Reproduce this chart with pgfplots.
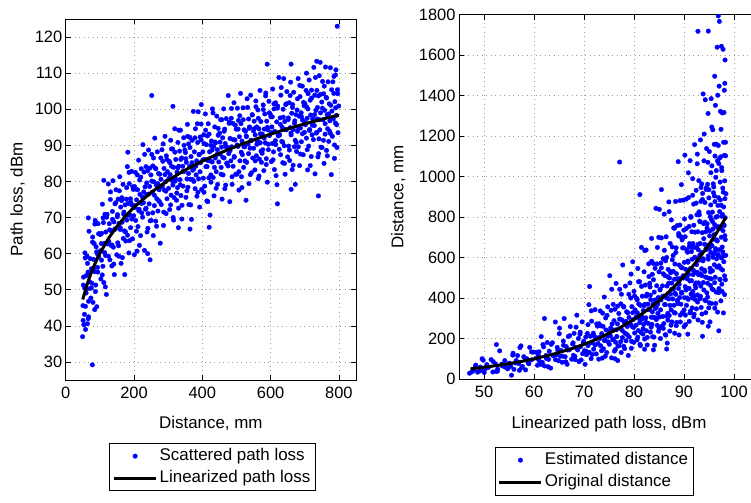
\documentclass[border=0pt]{standalone}
\usepackage{fontspec}
\setmainfont{Liberation Sans}
\usepackage{pgfplots}
\pgfplotsset{compat=1.18}
\pgfplotsset{
  mystyle/.style={
    clip marker paths=true,
    scale only axis,
    axis line style={black, line width=0.8bp},
    tick style={black, line width=0.6bp},
    tick align=inside,
    major tick length=5bp,
    grid=major,
    grid style={gray!75, line width=0.6bp, dash pattern=on 0.9bp off 3.6bp},
    tick label style={font=\fontsize{16.5}{19}\selectfont},
    label style={font=\fontsize{17}{20}\selectfont},
    xticklabel style={yshift=-4bp},
    /pgf/number format/assume math mode=true,
    /pgf/number format/1000 sep={},
    legend cell align=left,
    legend style={draw=black, line width=0.8bp, font=\fontsize{17}{20}\selectfont,
      inner xsep=3bp, inner ysep=3bp, row sep=2.5bp,
      nodes={text height=12bp, text depth=3.5bp, inner sep=2bp}},
  },
  scat/.style={only marks, mark=*, mark size=2.3bp, color=blue, mark options={draw=blue, fill=blue, line width=0.3bp},
    legend image code/.code={\draw[mark repeat=2,mark phase=2,##1] plot coordinates {(0bp,0bp) (21bp,0bp) (42bp,0bp)};}},
  fitline/.style={black, line width=3bp, no marks,
    legend image code/.code={\draw[##1] (0bp,0bp) -- (42bp,0bp);}},
}
\begin{document}
\begin{tikzpicture}
\useasboundingbox (0,0) rectangle (751bp,503bp);
\begin{axis}[mystyle, at={(65.7bp,123bp)}, anchor=south west,
  width=290.3bp, height=361bp,
  xmin=0, xmax=850, ymin=25, ymax=125,
  xtick={0,200,400,600,800}, ytick={30,40,50,60,70,80,90,100,110,120},
  xlabel={Distance, mm}, ylabel={Path loss, dBm},
  xlabel style={at={(axis description cs:0.5,-0.133)}, anchor=base},
  ylabel style={at={(axis description cs:-0.166,0.5)}, anchor=center},
  legend style={at={(0.5057,-0.1745)}, anchor=north}]
\addplot[scat] coordinates {
(50.6,45.6)(52.1,53.5)(53.3,40.3)(55.2,50.5)(56.4,60.2)(57.9,45.4)(59.6,53.9)(60.8,50.1)(62.5,59.3)(63.7,40.6)(65.4,54.9)(66.9,46.8)(68.3,66.2)(70.1,52.2)(71.8,58.6)(73.7,47.7)
(75.3,55.8)(76.8,51.8)(78.9,64.6)(79.8,46.5)(81.9,58.4)(83.2,62.8)(84.3,55.0)(86.4,69.2)(87.9,51.3)(89.1,61.9)(90.8,45.3)(92.2,60.0)(93.9,54.9)(94.7,68.3)(96.5,59.2)(98.1,65.5)
(101.5,65.3)(103.0,53.0)(104.2,62.8)(105.0,58.2)(107.6,73.7)(108.9,56.5)(110.5,68.6)(111.6,52.0)(113.5,62.8)(114.9,70.9)(116.6,59.5)(117.4,66.0)(119.1,48.7)(121.2,70.9)(122.6,62.7)(124.8,79.3)
(126.2,63.4)(127.7,68.3)(129.5,58.3)(130.8,75.0)(132.3,62.3)(133.6,66.3)(135.1,56.6)(136.9,71.7)(138.2,80.2)(139.6,61.8)(141.2,68.8)(142.5,54.2)(144.4,73.8)(145.8,66.9)(147.3,77.7)(149.4,59.7)
(150.9,70.2)(152.4,63.0)(153.6,75.1)(155.5,59.3)(156.1,68.4)(158.4,81.3)(159.9,66.7)(161.1,72.9)(162.2,57.3)(164.4,75.5)(165.1,68.7)(167.8,79.2)(168.6,64.2)(170.5,71.5)(172.9,54.2)(174.1,73.5)
(175.9,63.5)(177.4,75.1)(178.6,69.3)(180.5,84.1)(181.1,65.1)(183.4,73.9)(184.9,60.2)(186.1,79.4)(187.2,70.8)(189.4,75.2)(190.1,67.2)(192.8,82.8)(193.6,73.5)(195.5,64.1)(197.9,77.8)(199.1,70.5)
(201.5,78.6)(203.0,72.8)(204.2,82.5)(205.0,69.2)(207.6,74.9)(208.9,60.7)(210.5,77.7)(211.6,67.5)(213.5,85.9)(214.9,72.3)(216.6,80.4)(217.4,76.4)(219.1,65.0)(221.2,83.5)(222.6,71.3)(224.8,75.7)
(226.2,90.2)(227.7,74.1)(229.5,82.6)(230.8,60.9)(232.3,78.5)(233.6,72.3)(235.1,84.1)(236.9,76.4)(238.2,66.0)(239.6,82.9)(241.2,71.1)(242.5,88.7)(244.4,73.8)(245.8,78.6)(247.3,69.1)(249.4,81.8)
(250.6,69.2)(252.1,87.5)(253.3,77.0)(255.2,84.3)(256.4,65.0)(257.9,79.9)(259.6,73.3)(260.8,92.0)(262.5,83.7)(263.7,69.0)(265.4,79.0)(266.9,75.2)(268.3,88.2)(270.1,71.8)(271.8,82.2)(273.7,77.7)
(275.3,82.0)(276.8,62.9)(278.9,80.6)(279.8,73.6)(281.9,88.8)(283.2,78.7)(284.3,85.6)(286.4,67.8)(287.9,83.6)(289.1,77.6)(290.8,92.5)(292.2,79.9)(293.9,71.1)(294.7,87.1)(296.5,75.2)(298.1,82.7)
(301.2,78.1)(302.7,85.6)(304.5,72.2)(305.8,81.9)(307.3,91.4)(308.6,76.2)(310.1,84.2)(311.9,80.2)(313.2,89.0)(314.6,70.0)(316.2,83.9)(317.5,75.5)(319.4,94.6)(320.8,80.1)(322.3,86.1)(324.4,74.8)
(325.9,82.6)(327.4,78.3)(328.6,90.8)(330.5,72.6)(331.1,84.2)(333.4,88.4)(334.9,80.5)(336.1,94.2)(337.2,76.1)(339.4,86.5)(340.1,69.6)(342.8,84.2)(343.6,78.7)(345.5,92.1)(347.9,82.8)(349.1,88.7)
(350.6,88.0)(352.1,75.6)(353.3,85.3)(355.2,80.7)(356.4,95.8)(357.9,78.4)(359.6,90.4)(360.8,73.6)(362.5,84.2)(363.7,92.2)(365.4,80.6)(366.9,86.9)(368.3,69.5)(370.1,91.4)(371.8,83.1)(373.7,99.4)
(375.3,83.5)(376.8,88.2)(378.9,78.0)(379.8,94.6)(381.9,81.8)(383.2,85.7)(384.3,75.9)(386.4,90.8)(387.9,99.3)(389.1,80.7)(390.8,87.5)(392.2,72.9)(393.9,92.3)(394.7,85.2)(396.5,95.9)(398.1,77.8)
(401.5,88.2)(403.0,80.9)(404.2,92.9)(405.0,77.0)(407.6,86.1)(408.9,98.7)(410.5,84.1)(411.6,90.2)(413.5,74.6)(414.9,92.6)(416.6,85.8)(417.4,96.0)(419.1,81.0)(421.2,88.2)(422.6,70.7)(424.8,90.0)
(425.3,79.8)(426.8,91.2)(428.9,85.4)(429.8,100.1)(431.9,81.1)(433.2,89.7)(434.3,76.0)(436.4,95.1)(437.9,86.5)(439.1,90.7)(440.8,82.7)(442.2,98.1)(443.9,88.8)(444.7,79.2)(446.5,92.8)(448.1,85.4)
(450.6,93.4)(452.1,87.6)(453.3,97.1)(455.2,83.9)(456.4,89.5)(457.9,75.1)(459.6,92.1)(460.8,81.8)(462.5,100.1)(463.7,86.5)(465.4,94.5)(466.9,90.5)(468.3,79.0)(470.1,97.4)(471.8,85.1)(473.7,89.5)
(475.9,103.8)(477.4,87.7)(478.6,96.1)(480.5,74.4)(481.1,91.9)(483.4,85.7)(484.9,97.5)(486.1,89.6)(487.2,79.2)(489.4,96.1)(490.1,84.2)(492.8,101.8)(493.6,86.7)(495.5,91.5)(497.9,82.0)(499.1,94.5)
(501.2,82.0)(502.7,100.3)(504.5,89.7)(505.8,96.9)(507.3,77.6)(508.6,92.4)(510.1,85.7)(511.9,104.4)(513.2,96.0)(514.6,81.3)(516.2,91.2)(517.5,87.4)(519.4,100.4)(520.8,83.9)(522.3,94.3)(524.4,89.6)
(526.5,93.9)(528.0,74.8)(529.2,92.4)(530.0,85.3)(532.6,100.5)(533.9,90.4)(535.5,97.3)(536.6,79.4)(538.5,95.1)(539.9,89.2)(541.6,103.9)(542.4,91.4)(544.1,82.4)(546.2,98.5)(547.6,86.5)(549.8,94.0)
(550.3,89.2)(551.8,96.7)(553.9,83.2)(554.8,92.9)(556.9,102.3)(558.2,87.1)(559.3,95.1)(561.4,91.1)(562.9,99.8)(564.1,80.8)(565.8,94.6)(567.2,86.2)(568.9,105.2)(569.7,90.7)(571.5,96.6)(573.1,85.3)
(575.6,93.1)(577.1,88.8)(578.3,101.2)(580.2,83.0)(581.4,94.5)(582.9,98.7)(584.6,90.7)(585.8,104.5)(587.5,86.3)(588.7,96.7)(590.4,79.8)(591.9,94.3)(593.3,88.8)(595.1,102.2)(596.8,92.7)(598.7,98.7)
(600.9,97.9)(602.4,85.5)(603.6,95.1)(605.5,90.5)(606.1,105.6)(608.4,88.2)(609.9,100.1)(611.1,83.3)(612.2,93.9)(614.4,101.8)(615.1,90.2)(617.8,96.5)(618.6,79.1)(620.5,100.9)(622.9,92.6)(624.1,108.8)
(626.5,92.9)(628.0,97.6)(629.2,87.4)(630.0,103.9)(632.6,91.1)(633.9,95.0)(635.5,85.2)(636.6,100.0)(638.5,108.5)(639.9,89.9)(641.6,96.6)(642.4,82.0)(644.1,101.3)(646.2,94.3)(647.6,104.9)(649.8,86.8)
(651.2,97.1)(652.7,89.8)(654.5,101.8)(655.8,85.8)(657.3,94.9)(658.6,107.5)(660.1,92.9)(661.9,98.9)(663.2,83.3)(664.6,101.3)(666.2,94.4)(667.5,104.7)(669.4,89.6)(670.8,96.8)(672.3,79.2)(674.4,98.5)
(675.9,88.3)(677.4,99.8)(678.6,93.9)(680.5,108.5)(681.1,89.6)(683.4,98.1)(684.9,84.4)(686.1,103.5)(687.2,94.8)(689.4,99.0)(690.1,91.0)(692.8,106.4)(693.6,97.0)(695.5,87.4)(697.9,101.0)(699.1,93.6)
(700.3,101.6)(701.8,95.7)(703.9,105.2)(704.8,92.0)(706.9,97.5)(708.2,83.2)(709.3,100.1)(711.4,89.8)(712.9,108.1)(714.1,94.4)(715.8,102.5)(717.2,98.4)(718.9,86.9)(719.7,105.3)(721.5,92.9)(723.1,97.3)
(726.5,111.6)(728.0,95.5)(729.2,103.9)(730.0,82.1)(732.6,99.7)(733.9,93.4)(735.5,105.2)(736.6,97.3)(738.5,86.8)(739.9,103.7)(741.6,91.8)(742.4,109.3)(744.1,94.3)(746.2,99.0)(747.6,89.5)(749.8,102.0)
(750.6,89.4)(752.1,107.7)(753.3,97.1)(755.2,104.3)(756.4,85.0)(757.9,99.7)(759.6,93.1)(760.8,111.7)(762.5,103.3)(763.7,88.6)(765.4,98.5)(766.9,94.6)(768.3,107.6)(770.1,91.1)(771.8,101.5)(773.7,96.8)
(776.2,101.1)(777.7,81.9)(779.5,99.5)(780.8,92.5)(782.3,107.6)(783.6,97.4)(785.1,104.4)(786.9,86.4)(788.2,102.1)(789.6,96.2)(791.2,110.9)(792.5,98.3)(794.4,89.4)(795.8,105.4)(797.3,93.5)(799.4,100.9)
(78,29.2)(49.5,37.0)(51,41.5)(58,39.0)(67,42.5)(85,44.5)(252,103.8)(590,112.5)(660,112.5)(735,113.3)(745,113.0)(795,123.0)(775,111.5)(705,110.0)(790,109.5)
(620,73.8)(740,76.0)(660,77.8)(330,67.2)(247,58.3)(240,60.0)(201,59.7)(420,67.3)(364,66.8)(314,100.8)(397,101.3)(111.5,80.3)(66.2,69.9)(182,88.1)
(51.8,51.3)(54.9,43.2)(57.1,58.8)(59.7,49.1)(63.9,57.3)(66.0,42.0)(69.8,54.6)(72.0,50.4)
(75.2,50.5)(78.6,63.2)(81.2,55.8)(85.4,68.2)(87.1,49.5)(90.6,60.5)(93.2,56.2)(96.4,65.5)
(101.8,60.8)(104.9,65.6)(107.1,54.1)(109.7,69.9)(113.9,60.3)(116.0,50.8)(119.8,70.1)(122.0,62.9)
(125.2,59.3)(128.6,66.6)(131.2,77.1)(135.4,62.4)(137.1,69.5)(140.6,57.1)(143.2,66.7)(146.4,74.1)
(151.8,70.8)(154.9,62.2)(157.1,77.4)(159.7,67.2)(163.9,74.7)(166.0,58.9)(169.8,70.9)(172.0,66.3)
(175.2,66.0)(178.6,78.3)(181.2,70.6)(185.4,82.5)(187.1,63.6)(190.6,74.2)(193.2,69.6)(196.4,78.5)
(201.8,73.3)(204.9,77.9)(207.1,66.2)(209.7,81.8)(213.9,71.9)(216.0,62.3)(219.8,81.2)(222.0,73.9)
(225.2,70.1)(228.6,77.1)(231.2,87.5)(235.4,72.6)(237.1,79.6)(240.6,67.0)(243.2,76.5)(246.4,83.7)
(251.8,80.1)(254.9,71.3)(257.1,86.5)(259.7,76.2)(263.9,83.5)(266.0,67.6)(269.8,79.4)(272.0,74.7)
(275.2,74.3)(278.6,86.5)(281.2,78.6)(285.4,90.4)(287.1,71.5)(290.6,81.9)(293.2,77.3)(296.4,86.1)
(301.8,80.8)(304.9,85.2)(307.1,73.5)(309.7,89.0)(313.9,79.0)(316.0,69.3)(319.8,88.1)(322.0,80.7)
(325.2,76.8)(328.6,83.8)(331.2,94.2)(335.4,79.1)(337.1,86.1)(340.6,73.4)(343.2,82.8)(346.4,90.0)
(351.8,86.3)(354.9,77.4)(357.1,92.5)(359.7,82.2)(363.9,89.4)(366.0,73.5)(369.8,85.2)(372.0,80.5)
(375.2,80.0)(378.6,92.1)(381.2,84.3)(385.4,96.0)(387.1,77.0)(390.6,87.4)(393.2,82.7)(396.4,91.5)
(401.8,86.0)(404.9,90.5)(407.1,78.7)(409.7,94.2)(413.9,84.1)(416.0,74.4)(419.8,93.1)(422.0,85.7)
(425.2,81.8)(428.6,88.7)(431.2,99.0)(435.4,83.9)(437.1,90.9)(440.6,78.1)(443.2,87.5)(446.4,94.7)
(451.8,90.9)(454.9,82.0)(457.1,97.1)(459.7,86.7)(463.9,93.9)(466.0,78.0)(469.8,89.6)(472.0,84.9)
(475.2,84.3)(478.6,96.4)(481.2,88.5)(485.4,100.2)(487.1,81.3)(490.6,91.6)(493.2,86.9)(496.4,95.6)
(501.8,90.1)(504.9,94.5)(507.1,82.7)(509.7,98.2)(513.9,88.1)(516.0,78.3)(519.8,97.1)(522.0,89.6)
(525.2,85.7)(528.6,92.6)(531.2,102.9)(535.4,87.7)(537.1,94.7)(540.6,81.9)(543.2,91.3)(546.4,98.4)
(551.8,94.6)(554.9,85.7)(557.1,100.7)(559.7,90.3)(563.9,97.5)(566.0,81.5)(569.8,93.2)(572.0,88.4)
(575.2,87.8)(578.6,99.9)(581.2,92.0)(585.4,103.7)(587.1,84.7)(590.6,95.0)(593.2,90.3)(596.4,99.0)
(601.8,93.5)(604.9,97.9)(607.1,86.0)(609.7,101.5)(613.9,91.3)(616.0,81.6)(619.8,100.3)(622.0,92.9)
(625.2,88.9)(628.6,95.8)(631.2,106.0)(635.4,90.9)(637.1,97.8)(640.6,85.0)(643.2,94.4)(646.4,101.5)
(651.8,97.6)(654.9,88.7)(657.1,103.8)(659.7,93.4)(663.9,100.5)(666.0,84.5)(669.8,96.1)(672.0,91.4)
(675.2,90.8)(678.6,102.9)(681.2,95.0)(685.4,106.6)(687.1,87.6)(690.6,97.9)(693.2,93.2)(696.4,101.9)
(701.8,96.3)(704.9,100.7)(707.1,88.8)(709.7,104.3)(713.9,94.1)(716.0,84.4)(719.8,103.1)(722.0,95.6)
(725.2,91.6)(728.6,98.5)(731.2,108.8)(735.4,93.6)(737.1,100.5)(740.6,87.7)(743.2,97.1)(746.4,104.1)
(751.8,100.3)(754.9,91.4)(757.1,106.4)(759.7,96.0)(763.9,103.1)(766.0,87.1)(769.8,98.7)(772.0,94.0)
(775.2,93.3)(778.6,105.4)(781.2,97.5)(785.4,109.1)(787.1,90.1)(790.6,100.4)(793.2,95.7)(796.4,104.3)
};
\addlegendentry{Scattered path loss}
\addplot[fitline] coordinates {
(50,47.30)(60,50.67)(70,53.51)(80,55.97)(90,58.14)(100,60.08)(125,64.19)(150,67.55)(175,70.39)(200,72.86)(250,76.97)(300,80.33)(350,83.17)(400,85.63)(450,87.80)(500,89.75)(550,91.50)(600,93.11)(650,94.58)(700,95.95)(750,97.22)(800,98.41)
};
\addlegendentry{Linearized path loss}
\end{axis}

\begin{axis}[mystyle, at={(459bp,124bp)}, anchor=south west,
  width=300bp, height=364.3bp,
  xmin=45, xmax=105, ymin=0, ymax=1800,
  xtick={50,60,70,80,90,100}, ytick={0,200,400,600,800,1000,1200,1400,1600,1800},
  xlabel={Linearized path loss, dBm}, ylabel={Distance, mm},
  xlabel style={at={(axis description cs:0.5,-0.1353)}, anchor=base},
  ylabel style={at={(axis description cs:-0.2023,0.5)}, anchor=center},
  legend style={at={(0.45,-0.1867)}, anchor=north}]
\addplot[scat] coordinates {
(47.91,44.7)(48.35,68.7)(48.71,33.8)(49.27,58.9)(49.62,100.2)(50.06,44.9)(50.56,71.3)(50.92,58.2)(51.42,95.9)(51.77,34.7)(52.28,75.3)(52.72,48.6)(53.13,139.0)(53.66,64.6)(54.16,91.2)(54.72,50.4)
(55.05,78.2)(55.36,63.2)(55.81,127.2)(55.99,47.7)(56.44,91.3)(56.71,115.8)(56.94,76.0)(57.39,163.9)(57.70,62.1)(57.96,110.1)(58.32,44.9)(58.61,99.5)(58.97,75.2)(59.14,156.0)(59.52,94.9)(59.86,132.9)
(60.45,131.7)(60.69,67.8)(60.89,115.5)(61.02,90.2)(61.45,209.7)(61.66,82.1)(61.92,158.9)(62.10,64.5)(62.41,116.0)(62.64,180.3)(62.92,97.0)(63.05,137.4)(63.33,53.9)(63.68,179.1)(63.91,114.9)(64.27,281.6)
(64.44,119.5)(64.64,156.1)(64.88,90.5)(65.05,223.8)(65.25,112.4)(65.43,140.3)(65.63,82.9)(65.87,187.5)(66.04,298.6)(66.23,110.0)(66.45,160.0)(66.62,72.7)(66.87,210.0)(67.06,144.2)(67.26,259.0)(67.54,97.9)
(67.72,172.8)(67.89,116.8)(68.02,225.8)(68.24,95.9)(68.31,156.9)(68.57,315.5)(68.74,143.5)(68.87,200.2)(69.00,86.0)(69.24,231.4)(69.32,159.8)(69.63,282.5)(69.72,125.1)(69.93,186.0)(70.21,72.6)(70.34,207.1)
(70.53,120.3)(70.68,225.2)(70.80,164.6)(70.98,367.4)(71.04,131.5)(71.27,211.2)(71.42,100.7)(71.53,285.7)(71.64,179.2)(71.86,226.5)(71.92,147.3)(72.19,342.7)(72.27,206.6)(72.45,123.9)(72.69,261.0)(72.81,175.7)
(73.01,273.0)(73.14,199.7)(73.25,336.4)(73.32,164.1)(73.54,224.0)(73.66,103.2)(73.80,260.1)(73.89,149.5)(74.06,405.0)(74.18,193.8)(74.33,301.6)(74.40,242.3)(74.54,130.9)(74.73,356.6)(74.85,183.1)(75.04,233.5)
(75.15,510.4)(75.27,213.4)(75.41,339.2)(75.51,104.5)(75.62,271.9)(75.73,194.2)(75.84,368.8)(75.98,242.1)(76.08,137.7)(76.19,344.6)(76.32,181.9)(76.42,472.6)(76.57,210.0)(76.68,272.5)(76.79,162.9)(76.96,323.6)
(77.04,164.1)(77.14,443.2)(77.23,250.6)(77.36,371.1)(77.44,130.8)(77.55,292.2)(77.67,204.5)(77.75,563.5)(77.87,359.6)(77.95,161.8)(78.07,278.7)(78.18,226.8)(78.28,459.1)(78.40,188.8)(78.52,332.2)(78.65,259.3)
(78.76,327.5)(78.86,116.2)(79.00,304.2)(79.05,207.6)(79.18,474.6)(79.26,274.1)(79.34,400.2)(79.47,151.8)(79.57,357.7)(79.64,259.4)(79.75,579.3)(79.84,293.8)(79.95,181.3)(80.00,433.2)(80.12,227.3)(80.22,341.4)
(80.41,265.9)(80.50,399.2)(80.61,193.1)(80.68,326.4)(80.77,546.2)(80.85,239.1)(80.94,370.9)(81.04,298.6)(81.12,480.8)(81.20,171.3)(81.30,364.1)(81.38,230.5)(81.49,650.2)(81.57,295.7)(81.66,409.2)(81.78,221.9)
(81.86,338.5)(81.94,269.3)(82.01,529.7)(82.12,197.4)(82.15,369.0)(82.27,464.2)(82.36,302.1)(82.42,637.5)(82.48,238.3)(82.60,419.4)(82.64,168.0)(82.79,369.8)(82.84,275.1)(82.94,569.1)(83.07,342.3)(83.14,473.0)
(83.21,454.9)(83.29,231.9)(83.35,391.7)(83.45,305.2)(83.51,694.6)(83.59,269.9)(83.67,517.3)(83.73,208.6)(83.82,370.4)(83.88,570.6)(83.97,303.8)(84.04,429.4)(84.12,166.8)(84.21,547.0)(84.29,348.4)(84.39,843.3)
(84.46,355.5)(84.54,460.6)(84.64,264.9)(84.68,649.9)(84.78,324.5)(84.84,402.4)(84.90,235.8)(85.00,529.3)(85.07,838.1)(85.13,306.5)(85.21,442.7)(85.28,200.1)(85.36,572.8)(85.40,390.4)(85.48,697.1)(85.56,260.8)
(85.70,459.8)(85.77,308.9)(85.83,594.1)(85.86,249.9)(85.98,409.8)(86.04,814.5)(86.11,368.3)(86.16,511.4)(86.25,219.2)(86.31,584.0)(86.38,403.2)(86.42,702.7)(86.50,311.0)(86.59,459.4)(86.65,177.4)(86.75,505.3)
(86.77,290.9)(86.83,541.9)(86.92,395.4)(86.96,874.9)(87.04,313.6)(87.10,498.8)(87.15,236.5)(87.23,669.9)(87.30,419.3)(87.35,525.2)(87.42,341.6)(87.48,786.0)(87.55,473.8)(87.58,281.9)(87.66,588.8)(87.73,395.5)
(87.83,610.6)(87.89,444.8)(87.94,746.7)(88.02,364.4)(88.07,492.4)(88.13,226.2)(88.19,567.9)(88.24,325.7)(88.31,877.3)(88.36,418.3)(88.43,648.0)(88.49,520.4)(88.54,279.7)(88.61,757.8)(88.68,388.1)(88.76,492.0)
(88.84,1073.9)(88.90,447.3)(88.94,707.3)(89.01,217.6)(89.04,563.1)(89.12,402.0)(89.18,760.7)(89.23,496.7)(89.27,281.7)(89.35,704.0)(89.38,369.6)(89.48,960.5)(89.51,424.1)(89.58,549.3)(89.68,327.9)(89.72,647.6)
(89.79,328.3)(89.85,883.9)(89.91,499.1)(89.96,735.5)(90.01,258.9)(90.06,576.2)(90.11,401.8)(90.18,1106.1)(90.23,703.0)(90.28,315.8)(90.33,542.0)(90.38,439.8)(90.45,888.8)(90.50,364.0)(90.55,638.4)(90.63,496.7)
(90.71,626.3)(90.76,221.6)(90.80,577.2)(90.83,393.3)(90.91,896.6)(90.96,516.8)(91.01,753.7)(91.05,284.4)(91.11,669.0)(91.16,484.4)(91.22,1078.9)(91.25,545.3)(91.30,335.7)(91.38,802.9)(91.42,419.7)(91.50,629.6)
(91.51,485.7)(91.56,727.7)(91.63,351.2)(91.66,592.1)(91.73,989.8)(91.77,432.6)(91.80,669.0)(91.87,537.5)(91.92,864.1)(91.96,307.2)(92.02,651.5)(92.07,411.8)(92.12,1158.1)(92.15,525.1)(92.21,725.6)(92.26,392.0)
(92.35,597.9)(92.40,474.7)(92.43,932.2)(92.49,346.6)(92.53,648.0)(92.58,811.6)(92.63,527.3)(92.67,1111.1)(92.72,415.2)(92.76,727.5)(92.81,291.7)(92.86,638.6)(92.90,475.0)(92.96,980.3)(93.01,587.2)(93.07,811.2)
(93.13,779.7)(93.18,396.7)(93.21,669.2)(93.27,520.2)(93.29,1181.3)(93.36,458.9)(93.40,877.3)(93.44,353.3)(93.47,625.6)(93.54,963.9)(93.56,511.5)(93.64,723.1)(93.66,280.2)(93.72,917.0)(93.79,583.7)(93.83,1408.3)
(93.90,593.4)(93.94,767.6)(93.98,439.8)(94.00,1078.0)(94.08,537.6)(94.12,665.6)(94.16,390.0)(94.19,872.0)(94.25,1379.6)(94.29,504.0)(94.34,726.9)(94.36,327.8)(94.41,936.6)(94.47,639.2)(94.51,1138.6)(94.58,425.6)
(94.61,745.8)(94.66,500.3)(94.71,962.0)(94.74,404.6)(94.78,660.8)(94.82,1311.9)(94.86,592.2)(94.91,822.3)(94.95,351.5)(94.99,935.4)(95.03,644.8)(95.07,1123.7)(95.12,496.7)(95.16,731.6)(95.20,282.2)(95.26,802.3)
(95.31,462.3)(95.35,860.0)(95.38,625.5)(95.43,1385.2)(95.45,494.6)(95.51,786.9)(95.55,373.0)(95.58,1053.2)(95.61,658.0)(95.67,824.6)(95.69,534.8)(95.76,1231.4)(95.78,740.3)(95.84,440.9)(95.90,920.4)(95.93,617.1)
(95.95,948.9)(95.99,690.5)(96.05,1159.5)(96.07,564.3)(96.12,762.7)(96.16,349.9)(96.19,876.5)(96.24,502.7)(96.28,1352.2)(96.31,644.1)(96.36,996.6)(96.39,799.4)(96.44,429.4)(96.46,1160.2)(96.50,593.5)(96.55,751.1)
(96.63,1639.4)(96.67,682.1)(96.70,1077.7)(96.72,330.6)(96.79,857.4)(96.82,610.2)(96.86,1153.8)(96.89,752.7)(96.94,426.9)(96.97,1064.3)(97.01,559.3)(97.03,1446.9)(97.07,639.3)(97.13,827.2)(97.16,492.3)(97.22,972.9)
(97.24,491.6)(97.28,1322.3)(97.31,745.2)(97.35,1098.1)(97.38,386.0)(97.42,858.6)(97.46,598.3)(97.49,1643.9)(97.53,1044.5)(97.56,468.7)(97.60,803.7)(97.64,651.7)(97.67,1314.6)(97.71,538.3)(97.75,943.4)(97.80,732.9)
(97.86,923.4)(97.89,326.4)(97.94,850.2)(97.97,579.4)(98.00,1317.0)(98.03,758.4)(98.06,1105.0)(98.11,417.1)(98.14,979.3)(98.17,708.4)(98.21,1576.1)(98.24,796.8)(98.28,490.1)(98.31,1169.7)(98.35,611.1)(98.39,915.5)
(55.50,18.7)(47.11,28.6)(47.66,36.4)(50.04,32.0)(52.69,38.5)(57.09,42.9)(77.12,1072)(92.79,1718)(94.86,1719)(96.85,1794)(97.08,1767)(97.81,1629)(96.14,1496)(98.17,1461)
(93.70,211)(96.96,238)(94.86,261)(82.11,147)(76.75,91)(76.22,100)(72.95,98)(86.53,148)(83.88,144)(81.17,911)(85.49,936)(62.09,299)(52.48,170)(71.12,457)
(48.26,61.0)(49.18,39.6)(49.83,93.0)(50.59,55.0)(51.83,86.1)(52.45,37.3)(53.57,73.7)(54.22,58.6)
(55.02,58.9)(55.74,118.1)(56.29,79.0)(57.18,155.1)(57.54,56.4)(58.27,102.1)(58.82,80.9)(59.50,133.5)
(60.50,103.5)(61.00,134.6)(61.36,72.1)(61.79,170.2)(62.48,101.1)(62.82,60.5)(63.45,171.4)(63.81,116.2)
(64.30,95.5)(64.76,141.8)(65.11,251.6)(65.67,113.2)(65.90,166.7)(66.37,84.9)(66.71,143.2)(67.14,214.0)
(67.82,178.6)(68.17,111.9)(68.42,256.0)(68.71,147.2)(69.19,220.9)(69.43,93.9)(69.85,179.3)(70.10,140.0)
(70.46,137.2)(70.80,268.3)(71.05,176.3)(71.46,336.8)(71.63,121.2)(71.97,214.8)(72.23,167.8)(72.54,272.0)
(73.04,205.1)(73.31,263.0)(73.50,139.4)(73.73,325.4)(74.09,189.8)(74.27,112.6)(74.61,314.4)(74.80,211.4)
(75.07,171.7)(75.34,252.1)(75.54,443.3)(75.87,196.8)(76.00,288.2)(76.27,145.3)(76.47,243.2)(76.72,360.2)
(77.12,296.3)(77.34,184.1)(77.49,418.9)(77.67,239.4)(77.97,355.7)(78.12,150.5)(78.38,284.9)(78.54,221.3)
(78.75,215.6)(78.97,418.5)(79.14,273.7)(79.41,518.4)(79.51,186.0)(79.74,327.4)(79.90,254.6)(80.11,410.4)
(80.45,306.7)(80.63,391.3)(80.76,206.6)(80.91,480.6)(81.16,278.6)(81.29,164.8)(81.51,457.5)(81.64,306.7)
(81.82,247.9)(82.01,362.3)(82.15,635.1)(82.38,280.4)(82.48,409.8)(82.67,205.6)(82.81,343.2)(82.99,506.4)
(83.27,414.0)(83.43,256.3)(83.54,581.9)(83.68,331.6)(83.89,490.4)(84.00,207.0)(84.19,390.4)(84.30,302.7)
(84.46,293.9)(84.62,568.7)(84.75,371.0)(84.95,700.1)(85.03,250.8)(85.20,440.1)(85.32,341.5)(85.48,548.9)
(85.72,408.4)(85.86,519.7)(85.96,273.9)(86.07,635.8)(86.26,367.3)(86.36,216.9)(86.53,600.6)(86.63,401.9)
(86.76,324.2)(86.91,472.6)(87.02,826.9)(87.19,364.0)(87.26,531.4)(87.41,266.0)(87.52,443.2)(87.65,652.6)
(87.88,531.7)(88.01,328.5)(88.09,744.8)(88.20,423.7)(88.37,625.2)(88.45,263.6)(88.60,496.0)(88.69,384.1)
(88.81,372.2)(88.94,719.0)(89.04,468.3)(89.20,881.7)(89.26,315.6)(89.40,552.8)(89.50,428.3)(89.62,687.4)
(89.81,510.0)(89.93,648.0)(90.01,341.2)(90.10,791.0)(90.25,456.1)(90.33,269.1)(90.46,743.6)(90.54,497.2)
(90.66,400.4)(90.78,582.8)(90.87,1018.6)(91.01,447.6)(91.07,653.0)(91.19,326.4)(91.27,543.2)(91.38,798.8)
(91.56,649.4)(91.66,400.7)(91.73,907.8)(91.82,515.9)(91.96,760.0)(92.03,320.2)(92.15,601.6)(92.22,465.4)
(92.34,450.6)(92.44,869.2)(92.52,565.6)(92.65,1063.4)(92.71,380.4)(92.82,665.5)(92.90,515.1)(93.00,825.8)
(93.16,611.7)(93.25,776.4)(93.32,408.5)(93.40,946.2)(93.52,544.8)(93.59,321.2)(93.70,886.7)(93.77,592.4)
(93.86,476.7)(93.96,693.1)(94.04,1210.4)(94.16,531.3)(94.21,774.5)(94.31,386.7)(94.39,643.2)(94.48,945.0)
(94.63,767.0)(94.72,472.9)(94.78,1070.7)(94.85,608.1)(94.97,894.7)(95.03,376.8)(95.13,707.2)(95.20,546.8)
(95.29,528.9)(95.38,1019.4)(95.45,662.9)(95.56,1245.0)(95.61,445.2)(95.70,778.2)(95.77,602.0)(95.86,964.3)
(95.99,713.3)(96.07,904.7)(96.13,475.8)(96.20,1101.4)(96.31,633.6)(96.36,373.4)(96.46,1029.7)(96.52,687.6)
(96.60,552.9)(96.69,803.4)(96.75,1402.2)(96.86,614.9)(96.90,896.1)(96.99,447.1)(97.05,743.2)(97.13,1091.2)
(97.27,884.7)(97.35,545.1)(97.40,1233.7)(97.46,700.3)(97.56,1029.5)(97.61,433.3)(97.71,812.8)(97.76,628.2)
(97.84,607.2)(97.92,1169.6)(97.98,760.3)(98.07,1426.7)(98.11,510.0)(98.19,890.8)(98.25,688.8)(98.32,1102.8)
};
\addlegendentry{Estimated distance}
\addplot[fitline] coordinates {
(47.30,50)(50.67,60)(53.51,70)(55.97,80)(58.14,90)(60.08,100)(64.19,125)(67.55,150)(70.39,175)(72.86,200)(76.97,250)(80.33,300)(83.17,350)(85.63,400)(87.80,450)(89.75,500)(91.50,550)(93.11,600)(94.58,650)(95.95,700)(97.22,750)(98.41,800)
};
\addlegendentry{Original distance}
\end{axis}
\end{tikzpicture}
\end{document}
